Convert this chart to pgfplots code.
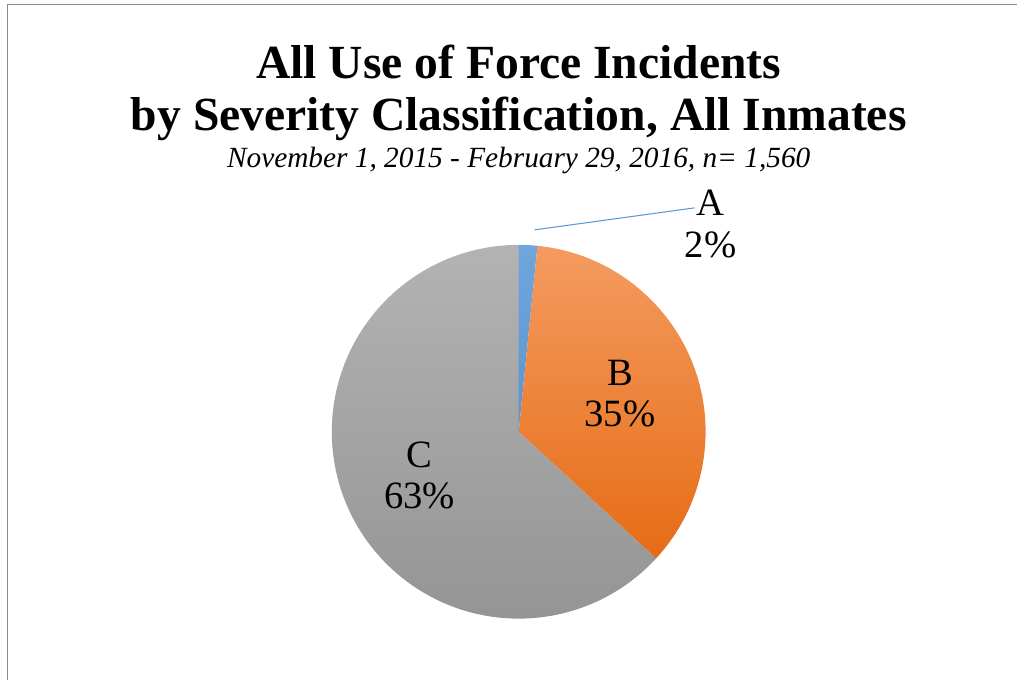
\documentclass[border=0pt]{standalone}
\usepackage{pgfplots}
\pgfplotsset{compat=1.18}
\usepackage{pgfplotstable}
\usepackage{fontspec}
\setmainfont{Liberation Serif}

% slice colours (top / bottom of the gradient)
\definecolor{pieTop0}{HTML}{6FA6DC}
\definecolor{pieBot0}{HTML}{5B94D0}
\definecolor{pieTop1}{HTML}{F49B60}
\definecolor{pieBot1}{HTML}{E66C16}
\definecolor{pieTop2}{HTML}{B3B3B3}
\definecolor{pieBot2}{HTML}{939393}
\definecolor{leader}{HTML}{5B9BD5}
\definecolor{frame}{HTML}{8C8C8C}

% counts per severity class, n = 1,560
\pgfplotstableread{
label count
A 25
B 550
C 985
}\piedata

\pgfplotstablegetrowsof{\piedata}
\pgfmathtruncatemacro\nlast{\pgfplotsretval-1}
\def\total{0}
\pgfplotsforeachungrouped \i in {0,...,\nlast}{%
  \pgfplotstablegetelem{\i}{count}\of\piedata
  \pgfmathsetmacro\total{\total+\pgfplotsretval}%
}

\def\cx{519}    % centre, px
\def\cy{248}
\def\rr{140.25pt} % 187 px

\tikzset{pielab/.style={font=\fontsize{29}{31}\selectfont, align=center, text=black}}

\begin{document}
\begin{tikzpicture}
\begin{axis}[
  width=763.5pt, height=510pt,
  scale only axis,
  xmin=0, xmax=1018, ymin=0, ymax=680,
  hide axis,
  clip=false,
]
\path (axis cs:0,0) rectangle (axis cs:1018,680);
\draw[frame, line width=0.9pt] (axis cs:7.5,0) -- (axis cs:7.5,675.5) -- (axis cs:1018,675.5);

\node[anchor=base, font=\fontsize{35.7}{40}\selectfont\bfseries] at (axis cs:519,601) {All Use of Force Incidents};
\node[anchor=base, font=\fontsize{35.7}{40}\selectfont\bfseries] at (axis cs:519,549) {by Severity Classification, All Inmates};
\node[anchor=base, font=\fontsize{22}{26}\selectfont\itshape] at (axis cs:519,512) {November 1, 2015 - February 29, 2016, n= 1,560};

\def\angA{90}
\pgfplotsforeachungrouped \i in {0,...,\nlast}{%
  \pgfplotstablegetelem{\i}{count}\of\piedata \let\val\pgfplotsretval
  \pgfplotstablegetelem{\i}{label}\of\piedata \let\lab\pgfplotsretval
  \pgfmathsetmacro\frac{\val/\total}%
  \pgfmathsetmacro\angB{\angA-360*\frac}%
  \pgfmathsetmacro\angM{(\angA+\angB)/2}%
  \pgfmathtruncatemacro\pct{round(100*\frac)}%
  \pgfmathsetmacro\lx{\cx+0.58*187*cos(\angM)}%
  \pgfmathsetmacro\ly{\cy+0.58*187*sin(\angM)}%
  \edef\temp{\noexpand\shade[top color=pieTop\i, bottom color=pieBot\i]
    (axis cs:\cx,\cy) -- ++(\angA:\rr) arc[start angle=\angA, end angle=\angB, radius=\rr] -- cycle;}%
  \temp
  \ifnum\i=0
    \edef\temp{\noexpand\draw[leader, line width=0.8pt] (axis cs:535,450) -- (axis cs:695,472);
      \noexpand\node[pielab] at (axis cs:711,456) {\lab\noexpand\\\pct\noexpand\%};}%
  \else
    \edef\temp{\noexpand\node[pielab] at (axis cs:\lx,\ly) {\lab\noexpand\\\pct\noexpand\%};}%
  \fi
  \temp
  \let\angA\angB
}
\end{axis}
\end{tikzpicture}
\end{document}
